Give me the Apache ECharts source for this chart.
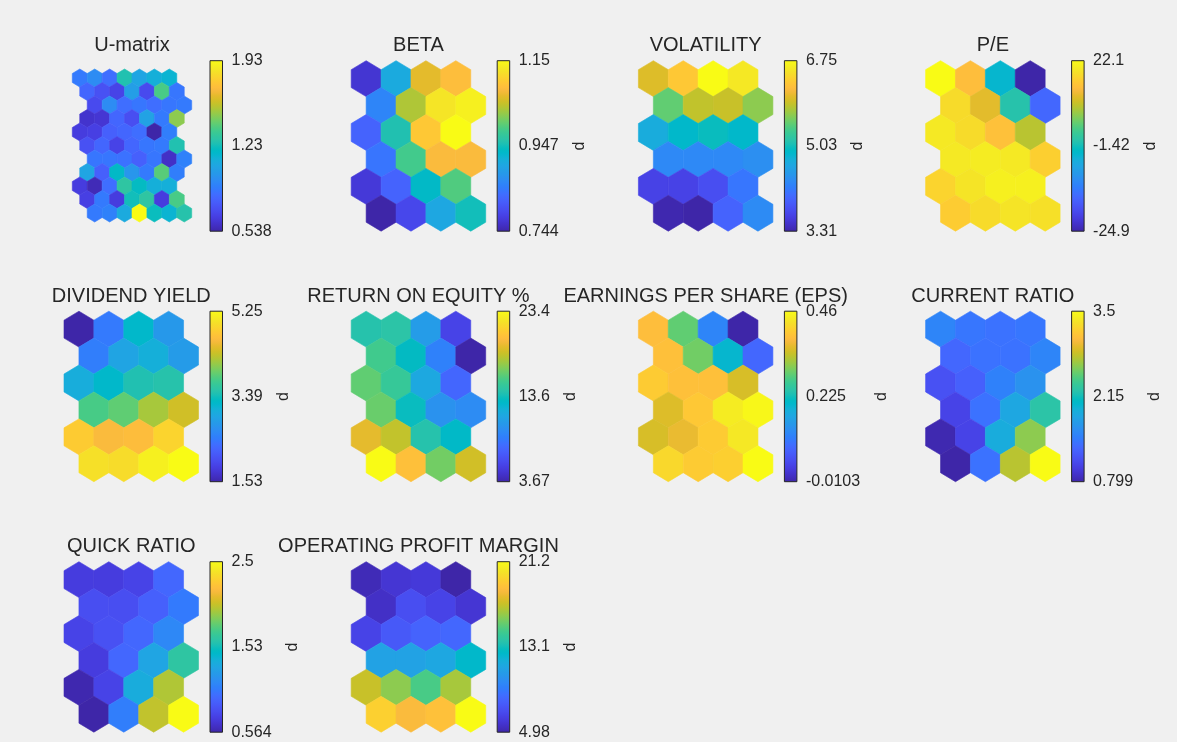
<!DOCTYPE html>
<html>
<head>
<meta charset="utf-8">
<script src="https://cdn.jsdelivr.net/npm/echarts@6/dist/echarts.min.js"></script>
<style>
  html, body { margin: 0; padding: 0; background: #f0f0f0; }
  #chart { width: 1177px; height: 742px; }
</style>
</head>
<body>
<div id="chart"></div>
<script>
// ---- Self-organising map: U-matrix (11 x 7) and component planes (6 rows x 4 columns) ----
const uMatrix = [
  [0.886, 0.956, 0.844, 1.262, 1.067, 1.123, 1.150],
  [0.816, 0.733, 0.677, 1.039, 0.705, 1.373, 0.872],
  [0.705, 0.956, 0.844, 0.872, 0.844, 0.872, 0.886],
  [0.608, 0.622, 0.816, 0.719, 1.053, 0.886, 1.485],
  [0.649, 0.663, 0.789, 0.816, 0.844, 0.538, 0.900],
  [0.733, 0.816, 0.677, 0.816, 0.872, 0.886, 1.262],
  [0.872, 0.872, 0.858, 0.789, 0.872, 0.594, 0.914],
  [1.067, 0.789, 1.192, 0.997, 0.886, 1.401, 0.900],
  [0.649, 0.566, 0.844, 1.304, 1.206, 1.123, 1.123],
  [0.663, 0.886, 0.649, 1.234, 1.304, 0.649, 1.373],
  [0.886, 0.914, 1.095, 1.930, 1.220, 1.150, 1.276]
];
const beta = [
  [0.768, 0.906, 1.065, 1.085],
  [0.858, 1.036, 1.126, 1.138],
  [0.821, 0.955, 1.097, 1.150],
  [0.841, 0.984, 1.081, 1.081],
  [0.772, 0.821, 0.935, 0.992],
  [0.744, 0.789, 0.902, 0.947]
];
const volatility = [
  [5.99, 6.30, 6.75, 6.58],
  [5.48, 5.86, 5.89, 5.65],
  [4.72, 4.89, 4.99, 4.89],
  [4.31, 4.31, 4.31, 4.38],
  [3.65, 3.65, 3.76, 4.14],
  [3.34, 3.31, 3.96, 4.34]
];
const priceEarnings = [
  [22.1, 14.6, -3.75, -24.9],
  [18.3, 12.2, 0.0, -15.5],
  [19.8, 18.3, 15.1, 9.4],
  [19.8, 20.2, 19.8, 16.9],
  [17.4, 19.3, 20.7, 20.7],
  [16.5, 18.3, 19.3, 18.8]
];
const dividendYield = [
  [1.53, 2.46, 3.24, 2.79],
  [2.50, 2.94, 3.09, 2.83],
  [3.06, 3.24, 3.46, 3.50],
  [3.76, 3.87, 4.17, 4.36],
  [4.80, 4.62, 4.65, 4.88],
  [4.99, 4.95, 5.14, 5.25]
];
const returnOnEquity = [
  [14.1, 14.3, 10.6, 5.64],
  [15.3, 13.1, 9.0, 3.67],
  [16.1, 14.9, 11.4, 7.6],
  [16.3, 13.3, 10.0, 9.6],
  [19.3, 18.3, 14.1, 12.9],
  [23.4, 20.4, 16.5, 18.7]
];
const earningsPerShare = [
  [0.385, 0.286, 0.121, -0.0103],
  [0.389, 0.295, 0.201, 0.084],
  [0.403, 0.389, 0.389, 0.352],
  [0.356, 0.399, 0.441, 0.455],
  [0.352, 0.366, 0.403, 0.436],
  [0.418, 0.403, 0.408, 0.46]
];
const currentRatio = [
  [1.555, 1.447, 1.420, 1.447],
  [1.339, 1.420, 1.420, 1.555],
  [1.177, 1.285, 1.528, 1.663],
  [1.069, 1.420, 1.852, 2.258],
  [0.826, 1.069, 1.906, 2.636],
  [0.799, 1.420, 2.771, 3.5]
];
const quickRatio = [
  [0.719, 0.719, 0.758, 0.951],
  [0.816, 0.816, 0.912, 1.048],
  [0.758, 0.835, 0.951, 1.125],
  [0.719, 0.951, 1.300, 1.629],
  [0.583, 0.758, 1.358, 1.958],
  [0.564, 1.067, 1.997, 2.5]
];
const operatingMargin = [
  [5.30, 5.95, 6.12, 4.98],
  [5.63, 7.09, 6.60, 5.95],
  [6.60, 7.58, 8.06, 8.22],
  [10.98, 10.98, 11.31, 12.44],
  [17.15, 16.01, 14.71, 16.50],
  [19.42, 18.44, 18.77, 21.2]
];

const titles = ['U-matrix', 'BETA', 'VOLATILITY', 'P/E', 'DIVIDEND YIELD', 'RETURN ON EQUITY %',
  'EARNINGS PER SHARE (EPS)', 'CURRENT RATIO', 'QUICK RATIO', 'OPERATING PROFIT MARGIN'];
const planes = [uMatrix, beta, volatility, priceEarnings, dividendYield, returnOnEquity,
  earningsPerShare, currentRatio, quickRatio, operatingMargin];
// colorbar tick labels: bottom, middle, top
const tickLabels = [
  ['0.538', '1.23', '1.93'], ['0.744', '0.947', '1.15'], ['3.31', '5.03', '6.75'],
  ['-24.9', '-1.42', '22.1'], ['1.53', '3.39', '5.25'], ['3.67', '13.6', '23.4'],
  ['-0.0103', '0.225', '0.46'], ['0.799', '2.15', '3.5'], ['0.564', '1.53', '2.5'],
  ['4.98', '13.1', '21.2']
];
const colorbarNames = ['', 'd', 'd', 'd', 'd', 'd', 'd', 'd', 'd', 'd'];

// parula colormap (64 steps)
const PARULA = ['#3e26a8','#402ab4','#422ec0','#4332cb','#4537d5','#463cde','#4741e5','#4747eb',
  '#484df0','#4852f4','#4758f8','#465efb','#4563fd','#4269fe','#3e6fff','#3875fe','#327cfc',
  '#2f81fa','#2e87f7','#2d8cf3','#2b91ef','#2797eb','#259be8','#23a0e5','#20a5e3','#1ca9df',
  '#18addb','#12b1d6','#08b5d0','#01b8ca','#02bac3','#0bbdbd','#19bfb6','#24c1ae','#2cc4a7',
  '#31c69f','#37c897','#3fca8e','#4acb84','#57cc7a','#64cd6f','#72cd64','#81cc59','#8fcb4e',
  '#9dc943','#abc739','#b9c431','#c5c22a','#d1bf27','#dcbd29','#e6bb2d','#f0ba36','#f8ba3d',
  '#febe3c','#fec338','#fec934','#fccf30','#fad62d','#f7dc2a','#f5e327','#f5e924','#f6ef20',
  '#f7f51b','#f9fb15'];

// ---- layout ----
const FONT = '"Liberation Sans", Arial, Helvetica, sans-serif';
const TEXT = '#262626';
const CB_X0 = 210, CB_DX = 287.2, CB_Y0 = 60.7, CB_DY = 250.5, CB_W = 12.5, CB_H = 170.5;
const TICK_SIZE = 16, TITLE_SIZE = 20, LABEL_MARGIN = 9;

const measure = (() => {
  const ctx = document.createElement('canvas').getContext('2d');
  return (txt, size) => { ctx.font = size + 'px ' + FONT; return ctx.measureText(txt).width; };
})();

function hexItem(params, api) {
  const c = api.coord([api.value(0), api.value(1)]);
  const unit = api.size([1, 1]);
  const hw = unit[0] / 2, hv = unit[1] * 2 / 3, hs = unit[1] / 3;
  const pts = [
    [c[0], c[1] - hv], [c[0] + hw, c[1] - hs], [c[0] + hw, c[1] + hs],
    [c[0], c[1] + hv], [c[0] - hw, c[1] + hs], [c[0] - hw, c[1] - hs]
  ];
  const color = api.visual('color');
  return { type: 'polygon', shape: { points: pts }, style: { fill: color, stroke: color, lineWidth: 0.6 } };
}

const barGradient = new echarts.graphic.LinearGradient(0, 1, 0, 0,
  PARULA.map((c, i) => ({ offset: i / (PARULA.length - 1), color: c })));

function colorbarItem(params, api) {
  const a = api.coord([0, api.value(1)]);
  const b = api.coord([1, api.value(0)]);
  return {
    type: 'rect',
    shape: { x: a[0], y: a[1], width: b[0] - a[0], height: b[1] - a[1] },
    style: { fill: barGradient, stroke: TEXT, lineWidth: 1 }
  };
}

const grid = [], xAxis = [], yAxis = [], series = [], visualMap = [], graphic = [];

planes.forEach((values, i) => {
  const row = Math.floor(i / 4), col = i % 4;
  const isU = values.length === 11;
  const nRows = values.length, nCols = values[0].length;
  const shift = isU ? (r => [0, 0.5, 1, 0.5][r % 4]) : (r => (r % 2) * 0.5);
  const maxShift = isU ? 1 : 0.5;
  const flat = values.flat();
  const lo = Math.min(...flat), hi = Math.max(...flat);
  const cbL = CB_X0 + col * CB_DX, cbT = CB_Y0 + row * CB_DY;

  const hexBox = isU
    ? { left: cbL - 137.7, top: cbT + 8.3, width: 119.4, height: 153 }
    : { left: cbL - 146, top: cbT, width: 134.5, height: CB_H };

  // hexagon grid
  const gi = grid.length;
  grid.push(hexBox);
  xAxis.push({ type: 'value', gridIndex: gi, min: -0.5, max: nCols - 0.5 + maxShift, show: false });
  yAxis.push({ type: 'value', gridIndex: gi, min: -2 / 3, max: nRows - 1 + 2 / 3, inverse: true, show: false });
  const data = [];
  values.forEach((rowVals, r) => rowVals.forEach((v, c) => data.push([c + shift(r), r, v])));
  const si = series.length;
  series.push({
    type: 'custom', xAxisIndex: gi, yAxisIndex: gi, renderItem: hexItem,
    encode: { x: 0, y: 1 }, dimensions: ['x', 'row', 'value'], data, silent: true
  });
  visualMap.push({ type: 'continuous', show: false, seriesIndex: si, dimension: 2,
    min: lo, max: hi, inRange: { color: PARULA } });

  // colorbar
  const ticks = tickLabels[i];
  const labelW = Math.max(...ticks.map(t => measure(t, TICK_SIZE)));
  const cbi = grid.length;
  grid.push({ left: cbL, top: cbT, width: CB_W, height: CB_H });
  xAxis.push({ type: 'value', gridIndex: cbi, min: 0, max: 1, show: false });
  const mid = (lo + hi) / 2;
  const tickVals = [lo, mid, hi];
  yAxis.push({
    type: 'value', gridIndex: cbi, min: lo, max: hi, position: 'right',
    axisLine: { show: false }, axisTick: { show: false }, splitLine: { show: false },
    axisLabel: {
      customValues: tickVals, margin: LABEL_MARGIN, fontFamily: FONT, fontSize: TICK_SIZE, color: TEXT,
      formatter: v => {
        let k = 0, best = Infinity;
        tickVals.forEach((t, j) => { const d = Math.abs(t - v); if (d < best) { best = d; k = j; } });
        return ticks[k];
      }
    },
    name: colorbarNames[i], nameLocation: 'middle', nameGap: LABEL_MARGIN + labelW + 13,
    nameTextStyle: { fontFamily: FONT, fontSize: TICK_SIZE, color: TEXT }
  });
  series.push({
    type: 'custom', xAxisIndex: cbi, yAxisIndex: cbi, renderItem: colorbarItem,
    encode: { x: 0, y: 1 }, data: [[lo, hi]], silent: true
  });

  // panel title
  graphic.push({
    type: 'text', x: hexBox.left + hexBox.width / 2, y: cbT - 15,
    style: { text: titles[i], font: TITLE_SIZE + 'px ' + FONT, fill: TEXT,
      align: 'center', verticalAlign: 'middle', textAlign: 'center', textVerticalAlign: 'middle' }
  });
});

const chart = echarts.init(document.getElementById('chart'), null, { renderer: 'canvas' });
chart.setOption({
  backgroundColor: '#f0f0f0',
  animation: false,
  grid, xAxis, yAxis, series, visualMap, graphic
});
</script>
</body>
</html>
